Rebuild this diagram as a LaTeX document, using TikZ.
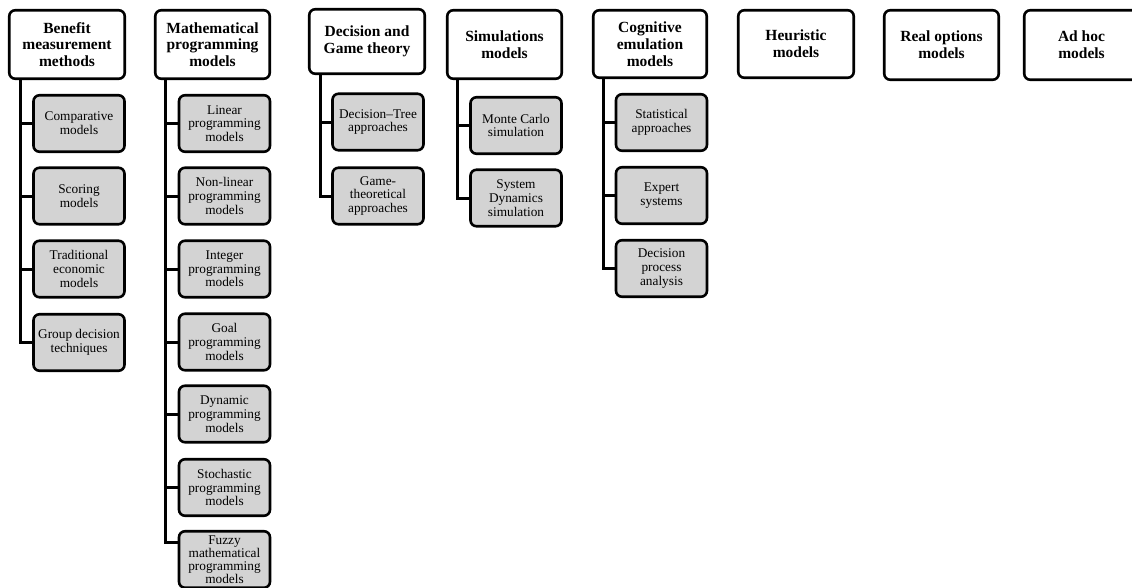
\documentclass[tikz,border=0pt]{standalone}
\usepackage{fontspec}
\setmainfont{Liberation Serif}
\definecolor{subgray}{RGB}{211,211,211}
\tikzset{
  topbox/.style={draw, line width=2.6pt, rounded corners=6pt, fill=white, align=center,
    inner sep=0pt, font=\bfseries\fontsize{15.5}{16.7}\selectfont},
  subbox/.style={draw, line width=2.6pt, rounded corners=6pt, fill=subgray, align=center,
    inner sep=0pt, minimum width=91pt, minimum height=56.5pt, font=\fontsize{13.3}{13.7}\selectfont},
  conn/.style={line width=3pt},
}
\begin{document}
\begin{tikzpicture}[x=1pt,y=-1pt]
\useasboundingbox (0,0) rectangle (1132,587);
\clip (0,0) rectangle (1132,587);
% top level
\node[topbox, minimum width=115.5pt, minimum height=68.5pt] (b1) at (67,44.5) {Benefit\\measurement\\methods};
\node[topbox, minimum width=114.5pt, minimum height=68.5pt] (b2) at (212.5,44.5) {Mathematical\\programming\\models};
\node[topbox, minimum width=115.5pt, minimum height=64.5pt] (b3) at (367,41.5) {Decision and\\Game theory};
\node[topbox, minimum width=114.5pt, minimum height=68.5pt] (b4) at (504.5,44.5) {Simulations\\models};
\node[topbox, minimum width=113.5pt, minimum height=67.5pt] (b5) at (650,44) {Cognitive\\emulation\\models};
\node[topbox, minimum width=115.5pt, minimum height=67.5pt] (b6) at (796,44) {Heuristic\\models};
\node[topbox, minimum width=114.5pt, minimum height=69.5pt] (b7) at (941.5,45) {Real options\\models};
\node[topbox, minimum width=114.5pt, minimum height=69.5pt] (b8) at (1081.5,45) {Ad hoc\\models};
% column 1
\node[subbox] (c11) at (79,123.5) {Comparative\\models};
\node[subbox] (c12) at (79,196) {Scoring\\models};
\node[subbox] (c13) at (79,269) {Traditional\\economic\\models};
\node[subbox] (c14) at (79,342.5) {Group decision\\techniques};
% column 2
\node[subbox] (c21) at (224.5,123.5) {Linear\\programming\\models};
\node[subbox] (c22) at (224.5,196) {Non-linear\\programming\\models};
\node[subbox] (c23) at (224.5,269) {Integer\\programming\\models};
\node[subbox] (c24) at (224.5,342) {Goal\\programming\\models};
\node[subbox] (c25) at (224.5,414) {Dynamic\\programming\\models};
\node[subbox] (c26) at (224.5,487.5) {Stochastic\\programming\\models};
\node[subbox, font=\fontsize{13.3}{13.2}\selectfont] (c27) at (224.5,559.5) {Fuzzy\\mathematical\\programming\\models};
% column 3
\node[subbox] (c31) at (378,122) {Decision--Tree\\approaches};
\node[subbox] (c32) at (378,196) {Game-\\theoretical\\approaches};
% column 4
\node[subbox] (c41) at (516,125.5) {Monte Carlo\\simulation};
\node[subbox] (c42) at (516,198) {System\\Dynamics\\simulation};
% column 5
\node[subbox] (c51) at (661.5,122.5) {Statistical\\approaches};
\node[subbox] (c52) at (661.5,195.5) {Expert\\systems};
\node[subbox] (c53) at (661.5,268.5) {Decision\\process\\analysis};
% connectors
\foreach \c in {c11,c12,c13,c14}
  \draw[conn] ([xshift=13pt]b1.south west) |- (\c.west);
\foreach \c in {c21,c22,c23,c24,c25,c26}
  \draw[conn] ([xshift=12pt]b2.south west) |- (\c.west);
\draw[conn] ([xshift=12pt]b2.south west) |- ([yshift=17.5pt]c27.west);
\foreach \c in {c31,c32}
  \draw[conn] ([xshift=13pt]b3.south west) |- (\c.west);
\foreach \c in {c41,c42}
  \draw[conn] ([xshift=12pt]b4.south west) |- (\c.west);
\foreach \c in {c51,c52,c53}
  \draw[conn] ([xshift=12pt]b5.south west) |- (\c.west);
\end{tikzpicture}
\end{document}
